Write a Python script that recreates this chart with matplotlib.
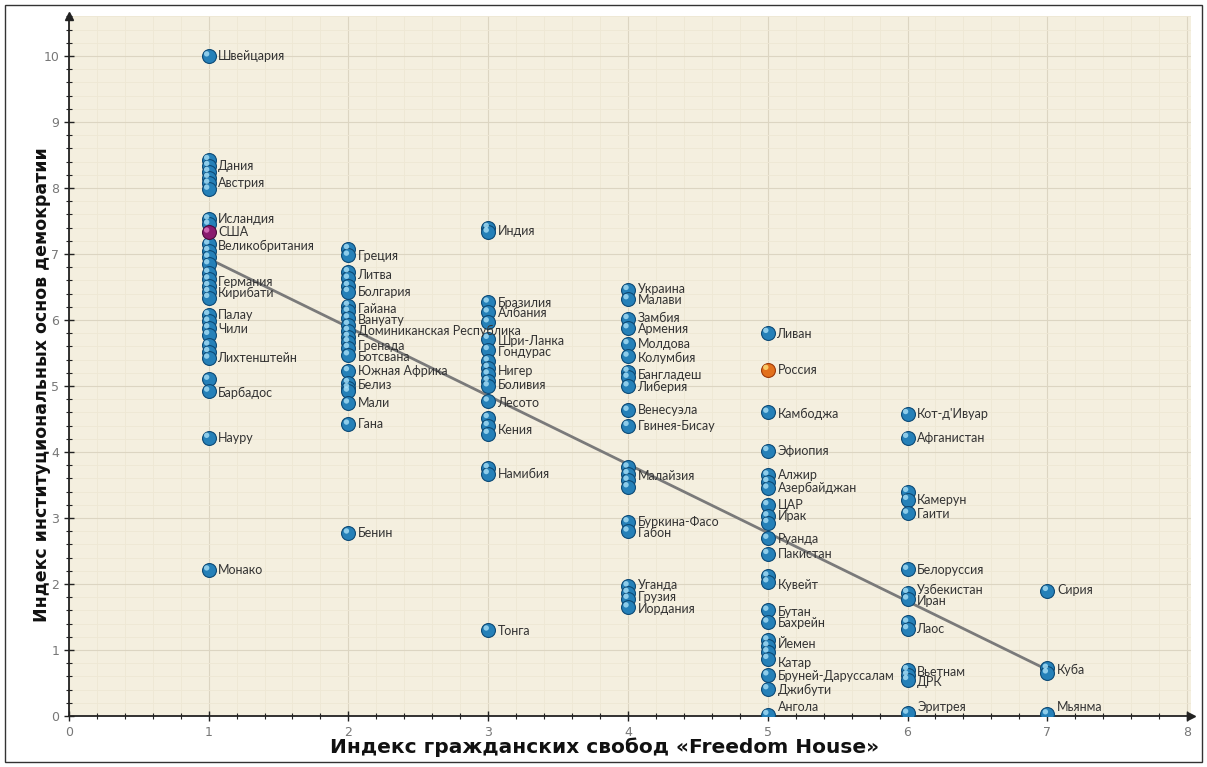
import numpy as np
import matplotlib
matplotlib.use("Agg")
import matplotlib.pyplot as plt
from matplotlib.patches import Rectangle
from matplotlib.ticker import MultipleLocator
from matplotlib.transforms import offset_copy

# --- данные: значения по столбцам индекса свобод ---
col1_y = [10.0, 8.43, 8.34, 8.25, 8.16, 8.07, 7.98, 7.53, 7.45, 7.15, 7.05, 6.95, 6.85,
          6.72, 6.62, 6.52, 6.43, 6.34, 6.08, 5.98, 5.88, 5.78, 5.62, 5.52, 5.42,
          5.10, 4.92, 4.22, 2.21]
col2_y = [7.08, 6.98, 6.73, 6.63, 6.52, 6.43, 6.22, 6.13, 6.03, 5.93, 5.84, 5.75, 5.67,
          5.58, 5.47, 5.23, 5.05, 4.97, 4.92, 4.74, 4.42, 2.77]
col3_y = [7.40, 7.33, 6.27, 6.12, 5.97, 5.72, 5.55, 5.38, 5.28, 5.18, 5.08, 5.00, 4.77,
          4.52, 4.40, 4.28, 3.76, 3.67, 1.30]
col4_y = [6.46, 6.32, 6.02, 5.88, 5.64, 5.45, 5.22, 5.13, 5.00, 4.63, 4.40, 3.77, 3.67,
          3.57, 3.47, 2.94, 2.80, 1.97, 1.87, 1.78, 1.65]
col5_y = [5.81, 4.60, 4.02, 3.65, 3.55, 3.45, 3.20, 3.03, 2.93, 2.69, 2.46, 2.12, 2.03,
          1.60, 1.42, 1.15, 1.06, 0.97, 0.87, 0.62, 0.41, 0.02]
col6_y = [4.58, 4.22, 3.40, 3.28, 3.07, 2.22, 1.87, 1.77, 1.42, 1.32, 0.70, 0.62, 0.55, 0.04]
col7_y = [1.90, 0.72, 0.65, 0.03]

usa = (1, 7.33)
russia = (5, 5.25)

trend_x = [1, 7]
trend_y = [6.93, 0.70]

label_names = [
    "Швейцария", "Дания", "Австрия", "Исландия", "США", "Великобритания", "Германия",
    "Кирибати", "Палау", "Чили", "Лихтенштейн", "Барбадос", "Науру", "Монако",
    "Греция", "Литва", "Болгария", "Гайана", "Вануату", "Доминиканская Республика",
    "Гренада", "Ботсвана", "Южная Африка", "Белиз", "Мали", "Гана", "Бенин",
    "Индия", "Бразилия", "Албания", "Шри-Ланка", "Гондурас", "Нигер", "Боливия",
    "Лесото", "Кения", "Намибия", "Тонга",
    "Украина", "Малави", "Замбия", "Армения", "Молдова", "Колумбия", "Бангладеш",
    "Либерия", "Венесуэла", "Гвинея-Бисау", "Малайзия", "Буркина-Фасо", "Габон",
    "Уганда", "Грузия", "Иордания",
    "Ливан", "Россия", "Камбоджа", "Эфиопия", "Алжир", "Азербайджан", "ЦАР", "Ирак",
    "Руанда", "Пакистан", "Кувейт", "Бутан", "Бахрейн", "Йемен", "Катар",
    "Бруней-Даруссалам", "Джибути", "Ангола",
    "Кот-д'Ивуар", "Афганистан", "Камерун", "Гаити", "Белоруссия", "Узбекистан",
    "Иран", "Лаос", "Вьетнам", "ДРК", "Эритрея",
    "Сирия", "Куба", "Мьянма",
]
label_x = [1] * 14 + [2] * 13 + [3] * 11 + [4] * 16 + [5] * 18 + [6] * 11 + [7] * 3
label_y = [
    10.0, 8.33, 8.07, 7.53, 7.34, 7.13, 6.58, 6.41, 6.07, 5.87, 5.42, 4.90, 4.22, 2.21,
    6.97, 6.68, 6.43, 6.17, 6.00, 5.84, 5.60, 5.44, 5.23, 5.02, 4.74, 4.42, 2.77,
    7.35, 6.26, 6.10, 5.69, 5.52, 5.23, 5.02, 4.74, 4.34, 3.66, 1.29,
    6.47, 6.31, 6.03, 5.86, 5.64, 5.43, 5.17, 4.98, 4.63, 4.39, 3.63, 2.94, 2.77,
    1.98, 1.80, 1.62,
    5.79, 5.25, 4.58, 4.02, 3.65, 3.45, 3.19, 3.03, 2.68, 2.45, 1.98, 1.57, 1.41,
    1.09, 0.80, 0.61, 0.39, 0.13,
    4.57, 4.22, 3.27, 3.06, 2.21, 1.91, 1.74, 1.32, 0.67, 0.51, 0.13,
    1.91, 0.70, 0.13,
]

columns = [col1_y, col2_y, col3_y, col4_y, col5_y, col6_y, col7_y]
xs = np.concatenate([[i + 1] * len(c) for i, c in enumerate(columns)])
ys = np.concatenate(columns)

fig = plt.figure(figsize=(12.07, 7.67), dpi=100)
ax = fig.add_axes([0.057, 0.0665, 0.930, 0.912])
ax.set_facecolor("#f4efdf")


def spheres(ax, x, y, base, edge, light, s=100, z=4):
    ax.scatter(x, y, s=s, c=base, edgecolors=edge, linewidths=0.8, zorder=z)
    hl = offset_copy(ax.transData, fig=fig, x=-1.4, y=1.6, units="points")
    ax.scatter(x, y, s=s * 0.15, c=light, edgecolors="none", alpha=0.8,
               zorder=z + 0.1, transform=hl)


ax.plot(trend_x, trend_y, color="#7a7a7a", lw=2, zorder=3)
spheres(ax, xs, ys, "#2580b8", "#0d4a76", "#a8e0f7")
spheres(ax, [usa[0]], [usa[1]], "#8a1a6e", "#4d0c3c", "#e07ac4", z=5)
spheres(ax, [russia[0]], [russia[1]], "#e2701c", "#9e3a0a", "#ffe27a", z=5)

for name, lx, ly in zip(label_names, label_x, label_y):
    ax.annotate(name, (lx, ly), xytext=(7, 0), textcoords="offset points",
                va="center", ha="left", fontsize=9, family="Lato",
                color="#333333", zorder=6)

ax.set_xlim(0, 8.03)
ax.set_ylim(0, 10.6)
ax.xaxis.set_major_locator(MultipleLocator(1))
ax.xaxis.set_minor_locator(MultipleLocator(0.2))
ax.yaxis.set_major_locator(MultipleLocator(1))
ax.yaxis.set_minor_locator(MultipleLocator(0.2))
ax.grid(which="major", color="#dcd5c2", lw=0.8, zorder=0)
ax.grid(which="minor", color="#eee7d4", lw=0.6, zorder=0)
ax.set_axisbelow(True)

ax.tick_params(which="major", direction="inout", length=7, width=1, colors="#222",
               labelcolor="#777", labelsize=9)
ax.tick_params(which="minor", direction="inout", length=4, width=0.8, colors="#222")
ax.tick_params(axis="x", pad=4)
for side in ["top", "right"]:
    ax.spines[side].set_visible(False)
for side in ["left", "bottom"]:
    ax.spines[side].set_linewidth(1.3)
    ax.spines[side].set_color("#222")

# стрелки на концах осей
ax.plot(1, 0, ">", color="#222", ms=6, transform=ax.transAxes, clip_on=False, zorder=7)
ax.plot(0, 1, "^", color="#222", ms=6, transform=ax.transAxes, clip_on=False, zorder=7)

ax.set_xlabel("Индекс гражданских свобод «Freedom House»", fontsize=14.5,
              fontweight="bold", family="DejaVu Sans", color="#111")
ax.set_ylabel("Индекс институциональных основ демократии", fontsize=12.5,
              fontweight="bold", family="DejaVu Sans", color="#111")
ax.xaxis.set_label_coords(0.477, -0.031)
ax.yaxis.set_label_coords(-0.016, 0.474)

fig.patches.append(Rectangle((0.004, 0.006), 0.992, 0.988, transform=fig.transFigure,
                             fill=False, lw=1, edgecolor="#333"))

fig.savefig("out.png", dpi=100)
